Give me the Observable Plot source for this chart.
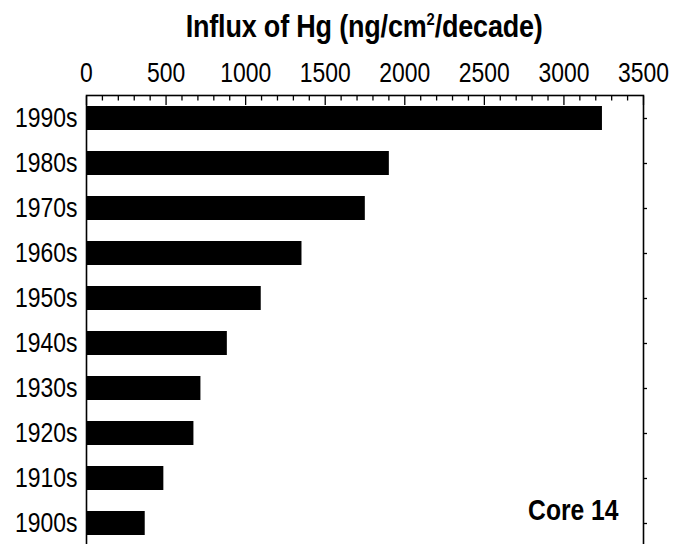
<!DOCTYPE html>
<html><head><meta charset="utf-8">
<script src="https://cdn.jsdelivr.net/npm/d3@7"></script>
<script src="https://cdn.jsdelivr.net/npm/@observablehq/plot@0.6"></script>
<style>
html,body{margin:0;padding:0;overflow:hidden;background:#fff;}
body{font-family:"Liberation Sans",Arial,sans-serif;}
#title{position:absolute;left:86px;width:557px;top:11px;text-align:center;font-weight:bold;font-size:31px;line-height:1;color:#000;}
#title span{display:inline-block;transform:scaleX(0.87);transform-origin:center center;letter-spacing:-0.2px;}
#title sup{font-size:17px;vertical-align:0;position:relative;top:-12px;}
#chart{position:absolute;left:0;top:50px;}
</style></head><body>
<div id="title"><span>Influx of Hg (ng/cm<sup>2</sup>/decade)</span></div>
<div id="chart"></div>
<script>
const decades = ["1990s","1980s","1970s","1960s","1950s","1940s","1930s","1920s","1910s","1900s"];
const influx = [3242, 1903, 1752, 1354, 1098, 885, 719, 675, 486, 369];
const majorTicks = [0, 500, 1000, 1500, 2000, 2500, 3000, 3500];
const minorTicks = [100,200,300,400,600,700,800,900,1100,1200,1300,1400,1600,1700,1800,1900,2100,2200,2300,2400,2600,2700,2800,2900,3100,3200,3300,3400];
const coreLabel = "Core 14";

const data = decades.map((d, i) => ({decade: d, value: influx[i]}));
const font = '"Liberation Sans",Arial,sans-serif';

const chart = Plot.plot({
  width: 673,
  height: 496,
  marginTop: 45,
  marginBottom: 0,
  marginLeft: 86,
  marginRight: 30,
  style: {fontFamily: font, fontSize: "27px", color: "#000", background: "#fff", overflow: "visible"},
  x: {domain: [0, 3500], axis: null},
  y: {domain: decades, paddingInner: 0.47, paddingOuter: 0.235, axis: null},
  marks: [
    Plot.barX(data, {x: "value", y: "decade", fill: "#000"}),
    Plot.axisX({anchor: "top", ticks: majorTicks, tickFormat: d => String(d), tickSize: 0, tickPadding: 14, fontSize: 27, label: null}),
    Plot.axisX({anchor: "top", ticks: majorTicks, tickSize: -9, text: null, label: null, strokeWidth: 1.3}),
    Plot.axisX({anchor: "top", ticks: minorTicks, tickSize: -4.5, text: null, label: null, strokeWidth: 1.3}),
    Plot.axisY({anchor: "left", ticks: decades, tickSize: 0, tickPadding: 9, fontSize: 27, label: null}),
    Plot.axisY({anchor: "right", ticks: decades, tickSize: 3, text: null, label: null, strokeWidth: 1.3}),
    Plot.frame({stroke: "#000", strokeWidth: 1.6}),
    Plot.text([coreLabel], {frameAnchor: "bottom-right", textAnchor: "end", dx: -25, dy: -27, fontSize: 29, fontWeight: "bold", fill: "#000"})
  ]
});
document.getElementById("chart").appendChild(chart);

// Condense all SVG texts horizontally (narrow sans look) about their anchor points
const SX = 0.85;
chart.querySelectorAll("text").forEach(t => {
  const anchor = getComputedStyle(t).textAnchor;
  const g = document.createElementNS("http://www.w3.org/2000/svg", "g");
  const tr = t.getAttribute("transform");
  if (tr) { g.setAttribute("transform", tr); t.removeAttribute("transform"); }
  t.parentNode.insertBefore(g, t);
  g.appendChild(t);
  t.style.transformBox = "fill-box";
  t.style.transformOrigin = anchor === "end" ? "right center" : anchor === "middle" ? "center center" : "left center";
  t.style.transform = `scaleX(${SX})`;
});
</script>
</body></html>
